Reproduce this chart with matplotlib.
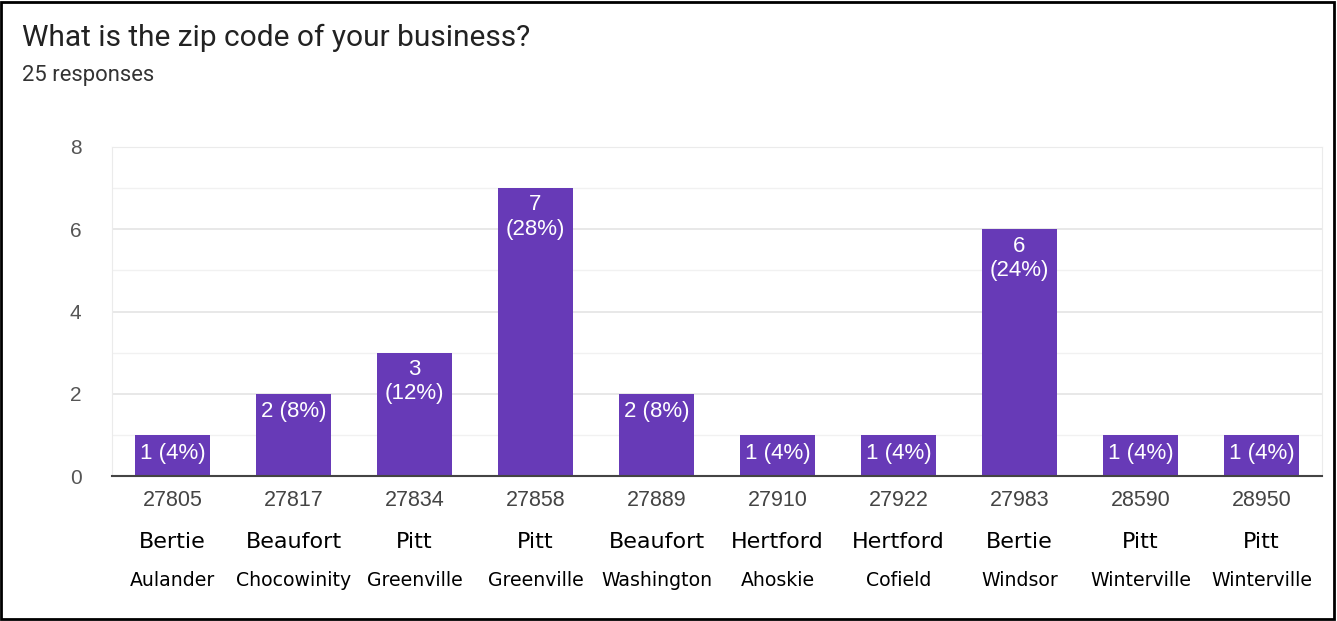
import matplotlib
matplotlib.use("Agg")
import matplotlib.pyplot as plt
from matplotlib.patches import Rectangle

zips = ["27805", "27817", "27834", "27858", "27889", "27910", "27922", "27983", "28590", "28950"]
counties = ["Bertie", "Beaufort", "Pitt", "Pitt", "Beaufort", "Hertford", "Hertford", "Bertie", "Pitt", "Pitt"]
towns = ["Aulander", "Chocowinity", "Greenville", "Greenville", "Washington", "Ahoskie", "Cofield", "Windsor", "Winterville", "Winterville"]
counts = [1, 2, 3, 7, 2, 1, 1, 6, 1, 1]
total = 25
title = "What is the zip code of your business?"
subtitle = "25 responses"
yticks = [0, 2, 4, 6, 8]

W, H = 1337, 621
fig = plt.figure(figsize=(W / 100, H / 100), dpi=100)
fig.patch.set_facecolor("white")

# outer black frame
fig.add_artist(Rectangle((1 / W, 2 / H), (W - 4) / W, (H - 4) / H, transform=fig.transFigure,
                         fill=False, edgecolor="black", linewidth=2))

ax = fig.add_axes([112 / W, 1 - 476 / H, (1322 - 112) / W, (476 - 147) / H])
x = list(range(len(zips)))
ax.bar(x, counts, width=0.62, color="#673ab7", zorder=3)
ax.set_xlim(-0.5, len(zips) - 0.5)
ax.set_ylim(0, 8)
ax.set_yticks(yticks)
ax.set_yticks(range(0, 9), minor=True)
ax.set_yticklabels([str(v) for v in yticks], fontsize=15, color="#555555", family="Liberation Sans")
ax.tick_params(axis="y", which="both", length=0, pad=22)
ax.tick_params(axis="x", length=0)
ax.set_xticks([])
ax.grid(axis="y", which="major", color="#e6e6e6", linewidth=1.3, zorder=0)
ax.grid(axis="y", which="minor", color="#f1f1f1", linewidth=1.0, zorder=0)
for s in ["top", "right", "left"]:
    ax.spines[s].set_color("#ebebeb")
ax.spines["bottom"].set_color("#444444")
ax.spines["bottom"].set_linewidth(1.5)
ax.spines["bottom"].set_zorder(4)

for xi, c in zip(x, counts):
    pct = round(100 * c / total)
    if c >= 3:
        ax.annotate(f"{c}\n({pct}%)", (xi, c), xytext=(0, -4.5), textcoords="offset points",
                    ha="center", va="top", color="white", fontsize=16, family="Liberation Sans",
                    linespacing=1.22, zorder=5)
    else:
        ax.annotate(f"{c} ({pct}%)", (xi, c), xytext=(0, -5.5), textcoords="offset points",
                    ha="center", va="top", color="white", fontsize=16, family="Liberation Sans",
                    zorder=5)

trans = ax.get_xaxis_transform()
for xi, z, cty, tw in zip(x, zips, counties, towns):
    ax.text(xi, -25 / 329, z, transform=trans, ha="center", va="center",
            fontsize=15.5, color="#444444", family="Liberation Sans")
    ax.text(xi, -66 / 329, cty, transform=trans, ha="center", va="center",
            fontsize=16, color="black", family="DejaVu Sans")
    ax.text(xi, -105 / 329, tw, transform=trans, ha="center", va="center",
            fontsize=13.6, color="black", family="DejaVu Sans")

fig.text(22 / W, 1 - 38 / H, title, ha="left", va="center", fontsize=21.5, color="#222222", family="Roboto")
fig.text(22 / W, 1 - 76 / H, subtitle, ha="left", va="center", fontsize=15.8, color="#333333", family="Roboto")

fig.savefig("out.png", dpi=100, facecolor="white")
